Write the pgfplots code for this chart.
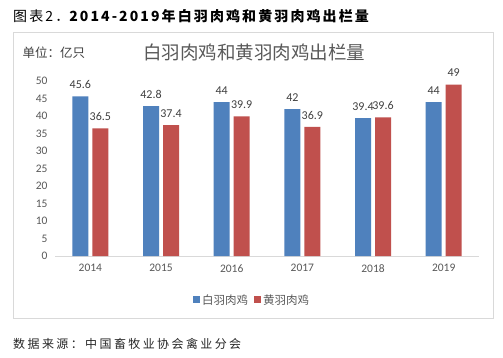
\documentclass[border=0pt]{standalone}
\usepackage{fontspec}
\usepackage{pgfplots}
\pgfplotsset{compat=1.18}
\setmainfont{Carlito}
\newfontfamily\cjk{Noto Sans CJK SC}
\newfontfamily\cjksp[LetterSpace=15]{Noto Sans CJK SC}
\newfontfamily\cjkspf[LetterSpace=20]{Noto Sans CJK SC}
\definecolor{cblue}{HTML}{4F81BD}
\definecolor{cred}{HTML}{C0504D}
\definecolor{boxgray}{HTML}{D9D9D9}
\definecolor{txtgray}{HTML}{595959}
\definecolor{lblgray}{HTML}{404040}
\begin{document}
\begin{tikzpicture}[x=1pt,y=1pt]
\useasboundingbox[fill=white] (0,0) rectangle (503,357);
\draw[boxgray] (13,39) rectangle (493,325);
\node[anchor=west,inner sep=0pt] at (13,341) {\cjksp\fontsize{14}{16}\selectfont 图表2．\bfseries 2014-2019年白羽肉鸡和黄羽肉鸡出栏量};
\node[anchor=center,inner sep=0pt,text=txtgray] at (254,305) {\cjk\fontsize{18.5}{20}\selectfont 白羽肉鸡和黄羽肉鸡出栏量};
\node[anchor=west,inner sep=0pt,text=lblgray] at (22.5,304) {\cjk\fontsize{12.5}{14}\selectfont 单位：亿只};
\node[anchor=west,inner sep=0pt,text=black!85] at (13,13) {\cjkspf\fontsize{12}{14}\selectfont 数据来源：中国畜牧业协会禽业分会};
\begin{axis}[
  at={(55pt,101pt)}, anchor=south west,
  scale only axis, width=424pt, height=175pt,
  xmin=-0.5, xmax=5.5, ymin=0, ymax=50,
  ytick={0,5,...,50},
  xtick={0,1,2,3,4,5},
  xticklabels={2014,2015,2016,2017,2018,2019},
  /pgf/number format/assume math mode=true,
  axis x line=bottom, axis y line=left,
  x axis line style={draw=boxgray,-},
  y axis line style={draw=none},
  major tick length=0pt,
  tick label style={text=txtgray, font=\fontsize{11.5}{13}\selectfont},
  yticklabel style={xshift=-4pt},
  xticklabel style={yshift=-5pt},
  ybar, bar width=16pt,
  nodes near coords,
  nodes near coords style={text=lblgray, font=\fontsize{12}{14}\selectfont, yshift=4pt},
  legend style={at={(0.465,-0.251)}, anchor=center, draw=none, legend columns=2,
    font=\cjk\fontsize{11.5}{13}\selectfont, text=txtgray,
    /tikz/every even column/.append style={column sep=4pt}},
  legend image code/.code={\fill[#1] (0pt,-3.5pt) rectangle (7pt,3.5pt);},
]
\addplot[fill=cblue, draw=none, bar shift=-10pt] coordinates {(0,45.6) (1,42.8) (2,44) (3,42) (4,39.4) (5,44)};
\addplot[fill=cred, draw=none, bar shift=10pt] coordinates {(0,36.5) (1,37.4) (2,39.9) (3,36.9) (4,39.6) (5,49)};
\legend{白羽肉鸡,黄羽肉鸡}
\end{axis}
\end{tikzpicture}
\end{document}
